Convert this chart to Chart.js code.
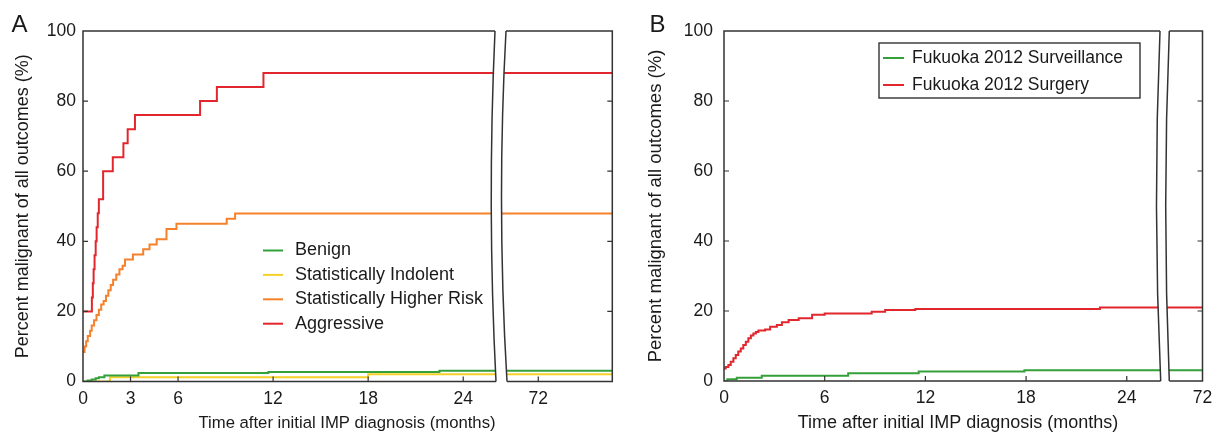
<!DOCTYPE html>
<html><head><meta charset="utf-8">
<script src="https://cdn.jsdelivr.net/npm/chart.js@4.4.1/dist/chart.umd.min.js"></script>
<style>
html,body{margin:0;padding:0;background:#fff;}
#wrap{position:relative;width:1212px;height:432px;background:#fff;overflow:hidden;}
canvas{position:absolute;top:0;}
</style></head><body>
<div id="wrap">
<canvas id="a1" width="500" height="432" style="left:0px"></canvas>
<canvas id="a2" width="120" height="432" style="left:500px"></canvas>
<canvas id="b1" width="542" height="432" style="left:620px"></canvas>
<canvas id="b2" width="50" height="432" style="left:1162px"></canvas>
</div>
<script>
// ---------------- data ----------------
const yTicks = [0, 20, 40, 60, 80, 100];
const xTicksA = [0, 3, 6, 12, 18, 24];
const xTicksB = [0, 6, 12, 18, 24];
const xTicksLate = [72];
const yTitle = 'Percent malignant of all outcomes (%)';
const xTitle = 'Time after initial IMP diagnosis (months)';

// Panel A
const seriesNamesA = ['Benign', 'Statistically Indolent', 'Statistically Higher Risk', 'Aggressive'];
const benignMonths = [0, 0.3, 0.55, 0.8, 1.0, 1.35, 3.5, 11.7, 22.5, 77];
const benignPct    = [0, 0.3, 0.6, 0.9, 1.2, 1.7, 2.4, 2.7, 3.1, 3.1];
const indolentMonths = [0, 1.7, 18.0, 77];
const indolentPct    = [0, 1.2, 2.1, 2.1];
const higherRiskMonths = [0, 0.1, 0.2, 0.3, 0.45, 0.55, 0.7, 0.85, 1.0, 1.15, 1.3, 1.45, 1.6, 1.75, 1.9, 2.1, 2.3, 2.5, 2.65, 3.15, 3.8, 4.2, 4.65, 5.27, 5.9, 9.07, 9.6, 77];
const higherRiskPct    = [8.4, 10, 11.5, 13, 14.5, 16, 17.5, 19, 20.5, 22, 23, 24.5, 26, 27.5, 29, 30.5, 32, 33, 34.8, 36.2, 37.7, 39.1, 40.6, 43.5, 45, 46.4, 47.9, 47.9];
const aggressiveMonths = [0, 0.56, 0.62, 0.67, 0.73, 0.8, 0.86, 0.93, 1.0, 1.27, 1.88, 2.55, 2.82, 3.28, 7.39, 8.45, 11.39, 77];
const aggressivePct    = [20, 24, 28, 32, 36, 40, 44, 48, 52, 60, 64, 68, 72, 76, 80, 84, 88, 88];

// Panel B
const seriesNamesB = ['Fukuoka 2012 Surveillance', 'Fukuoka 2012 Surgery'];
const surveillanceMonths = [0, 0.2, 0.76, 2.25, 7.4, 11.6, 17.9, 77];
const surveillancePct    = [0, 0.5, 0.95, 1.5, 2.2, 2.7, 3.1, 3.1];
const surgeryMonths = [0, 0.1, 0.26, 0.4, 0.56, 0.7, 0.85, 1.0, 1.15, 1.3, 1.45, 1.6, 1.75, 1.9, 2.05, 2.45, 2.75, 3.15, 3.45, 3.85, 4.45, 5.25, 6.0, 8.8, 9.6, 11.4, 22.4, 77];
const surgeryPct    = [3.6, 4.0, 4.6, 5.5, 6.5, 7.4, 8.4, 9.3, 10.3, 11.2, 12.2, 13.0, 13.6, 14.0, 14.4, 14.7, 15.5, 16.0, 16.8, 17.4, 17.9, 18.9, 19.3, 19.8, 20.3, 20.6, 21.0, 21.0];

// ---------------- styling ----------------
const COL = {green:'#34a03a', yellow:'#f4d028', orange:'#f5812b', red:'#e2262d'};
const AXIS = '#333333';
const TXT = '#1a1a1a';
const FONT = "'Liberation Sans', Arial, Helvetica, sans-serif";

function lineDs(label, months, pct, color) {
  return {label, data: months.map((m, i) => ({x: m, y: pct[i]})),
    borderColor: color, backgroundColor: color, borderWidth: 2,
    pointRadius: 0, stepped: 'before', fill: false, tension: 0};
}
const datasetsA = () => [
  lineDs(seriesNamesA[0], benignMonths, benignPct, COL.green),
  lineDs(seriesNamesA[1], indolentMonths, indolentPct, COL.yellow),
  lineDs(seriesNamesA[2], higherRiskMonths, higherRiskPct, COL.orange),
  lineDs(seriesNamesA[3], aggressiveMonths, aggressivePct, COL.red)
];
const datasetsB = () => [
  lineDs(seriesNamesB[0], surveillanceMonths, surveillancePct, COL.green),
  lineDs(seriesNamesB[1], surgeryMonths, surgeryPct, COL.red)
];

const framePlugin = {
  id: 'frame',
  afterDatasetsDraw(chart, args, o) {
    if (!o || !o.part) return;
    const ctx = chart.ctx, ca = chart.chartArea, W = chart.width;
    const xs = chart.scales.x, ys = chart.scales.y;
    const top = ca.top, bot = ca.bottom, mid = (top + bot) / 2;
    const c = o.curve;
    const early = o.part === 'early';
    ctx.save();
    ctx.fillStyle = '#fff';
    ctx.beginPath();
    ctx.moveTo(c[0], top);
    ctx.quadraticCurveTo(c[1], mid, c[2], bot);
    if (early) { ctx.lineTo(W, bot); ctx.lineTo(W, top); }
    else { ctx.lineTo(0, bot); ctx.lineTo(0, top); }
    ctx.closePath(); ctx.fill();

    ctx.strokeStyle = AXIS; ctx.lineWidth = 1.5; ctx.lineJoin = 'miter';
    ctx.beginPath();
    if (early) {
      ctx.moveTo(c[0], top); ctx.lineTo(ca.left, top); ctx.lineTo(ca.left, bot); ctx.lineTo(c[2], bot);
    } else {
      ctx.moveTo(c[0], top); ctx.lineTo(ca.right, top); ctx.lineTo(ca.right, bot); ctx.lineTo(c[2], bot);
    }
    ctx.moveTo(c[0], top);
    ctx.quadraticCurveTo(c[1], mid, c[2], bot);
    ctx.stroke();

    const tl = 5;
    ctx.lineWidth = 1.2;
    ctx.beginPath();
    xs.ticks.forEach(t => {
      const px = xs.getPixelForValue(t.value);
      if (px > ca.left + 2 && px < ca.right - 2) { ctx.moveTo(px, bot); ctx.lineTo(px, bot - tl); }
    });
    ys.ticks.forEach(t => {
      const py = ys.getPixelForValue(t.value);
      if (py > top + 2 && py < bot - 2) {
        if (early) { ctx.moveTo(ca.left, py); ctx.lineTo(ca.left + tl, py); }
        else { ctx.moveTo(ca.right, py); ctx.lineTo(ca.right - tl, py); }
      }
    });
    ctx.stroke();
    ctx.restore();
  }
};

const annotPlugin = {
  id: 'annot',
  afterDraw(chart, args, o) {
    if (!o || !o.panel) return;
    const ctx = chart.ctx;
    ctx.save();
    ctx.fillStyle = TXT;
    ctx.font = o.panelSize + 'px ' + FONT;
    ctx.textAlign = 'left'; ctx.textBaseline = 'alphabetic';
    ctx.fillText(o.panel, o.panelX, o.panelY);
    ctx.font = o.xTitleSize + 'px ' + FONT;
    ctx.textAlign = 'center'; ctx.textBaseline = 'middle';
    ctx.fillText(xTitle, o.xTitleX, o.xTitleY);
    const L = o.legend;
    if (L.box) {
      ctx.fillStyle = '#fff';
      ctx.fillRect(L.box[0], L.box[1], L.box[2], L.box[3]);
      ctx.strokeStyle = AXIS; ctx.lineWidth = 1.4;
      ctx.strokeRect(L.box[0], L.box[1], L.box[2], L.box[3]);
    }
    ctx.font = L.size + 'px ' + FONT;
    ctx.textAlign = 'left'; ctx.textBaseline = 'middle';
    chart.data.datasets.forEach((ds, i) => {
      const yy = L.y0 + i * L.dy;
      ctx.strokeStyle = ds.borderColor; ctx.lineWidth = 2;
      ctx.beginPath(); ctx.moveTo(L.x0, yy); ctx.lineTo(L.x1, yy); ctx.stroke();
      ctx.fillStyle = TXT;
      ctx.fillText(ds.label, L.tx, yy);
    });
    ctx.restore();
  }
};
Chart.register(framePlugin, annotPlugin);

function makeChart(id, p) {
  const xScale = {
    type: 'linear', min: p.xmin, max: p.xmax,
    grid: {display: false, drawTicks: false}, border: {display: false},
    afterBuildTicks: s => { s.ticks = p.xticks.map(v => ({value: v})); },
    afterFit: s => { s.height = p.xh; s.paddingLeft = 0; s.paddingRight = 0; },
    ticks: {color: TXT, font: {family: FONT, size: p.tickSize}, padding: p.xpad, autoSkip: false, maxRotation: 0,
      callback: v => String(v)}
  };
  const yScale = {
    type: 'linear', min: 0, max: 100, display: p.showY,
    grid: {display: false, drawTicks: false}, border: {display: false},
    afterBuildTicks: s => { s.ticks = yTicks.map(v => ({value: v})); },
    ticks: {color: TXT, font: {family: FONT, size: p.tickSize}, padding: p.ypad, callback: v => String(v)},
    title: {display: p.showY, text: yTitle, color: TXT, font: {family: FONT, size: p.yTitleSize, lineHeight: 1},
      padding: {top: p.yTitlePad, bottom: 0}}
  };
  if (p.showY) yScale.afterFit = s => { s.width = p.yw; };
  return new Chart(document.getElementById(id), {
    type: 'line',
    data: {datasets: p.datasets()},
    options: {
      responsive: false, animation: false, devicePixelRatio: 1, events: [],
      layout: {padding: p.pad},
      scales: {x: xScale, y: yScale},
      plugins: {legend: {display: false}, tooltip: {enabled: false}, title: {display: false},
        frame: p.frame, annot: p.annot || {}}
    }
  });
}

// Panel A, early segment (canvas x 0..500)
makeChart('a1', {
  datasets: datasetsA, xmin: 0, xmax: 26.07, xticks: xTicksA, xh: 50.5, xpad: 7,
  showY: true, yw: 83, ypad: 7, tickSize: 17.5, yTitleSize: 18, yTitlePad: 14,
  pad: {left: 0, right: 4, top: 31, bottom: 0},
  frame: {part: 'early', curve: [495, 487, 496]},
  annot: {panel: 'A', panelSize: 24, panelX: 11.5, panelY: 32, xTitleSize: 16.7, xTitleX: 347, xTitleY: 423,
    legend: {size: 18, x0: 263, x1: 283, tx: 295, y0: 250.5, dy: 24.4}}
});
// Panel A, late segment (canvas x 500..620)
makeChart('a2', {
  datasets: datasetsA, xmin: 69.65, xmax: 76.67, xticks: xTicksLate, xh: 50.5, xpad: 7,
  showY: false, tickSize: 17.5, pad: {left: 1, right: 7.7, top: 31, bottom: 0},
  frame: {part: 'late', curve: [6, -3.5, 7]}
});
// Panel B, early segment (canvas x 620..1162)
makeChart('b1', {
  datasets: datasetsB, xmin: 0, xmax: 26.04, xticks: xTicksB, xh: 51, xpad: 7,
  showY: true, yw: 104, ypad: 11, tickSize: 17.5, yTitleSize: 18.5, yTitlePad: 27,
  pad: {left: 0, right: 1, top: 31, bottom: 0},
  frame: {part: 'early', curve: [540, 532.6, 540.7]},
  annot: {panel: 'B', panelSize: 24, panelX: 29.5, panelY: 32, xTitleSize: 18, xTitleX: 338, xTitleY: 423,
    legend: {size: 17.5, box: [259, 43, 261, 55], x0: 263, x1: 284, tx: 292, y0: 58, dy: 27}}
});
// Panel B, late segment (canvas x 1162..1212)
makeChart('b2', {
  datasets: datasetsB, xmin: 69.8, xmax: 72, xticks: xTicksLate, xh: 51, xpad: 7,
  showY: false, tickSize: 17.5, pad: {left: 3.5, right: 9.5, top: 31, bottom: 0},
  frame: {part: 'late', curve: [7.3, 0.1, 7.3]}
});
</script>
</body></html>
